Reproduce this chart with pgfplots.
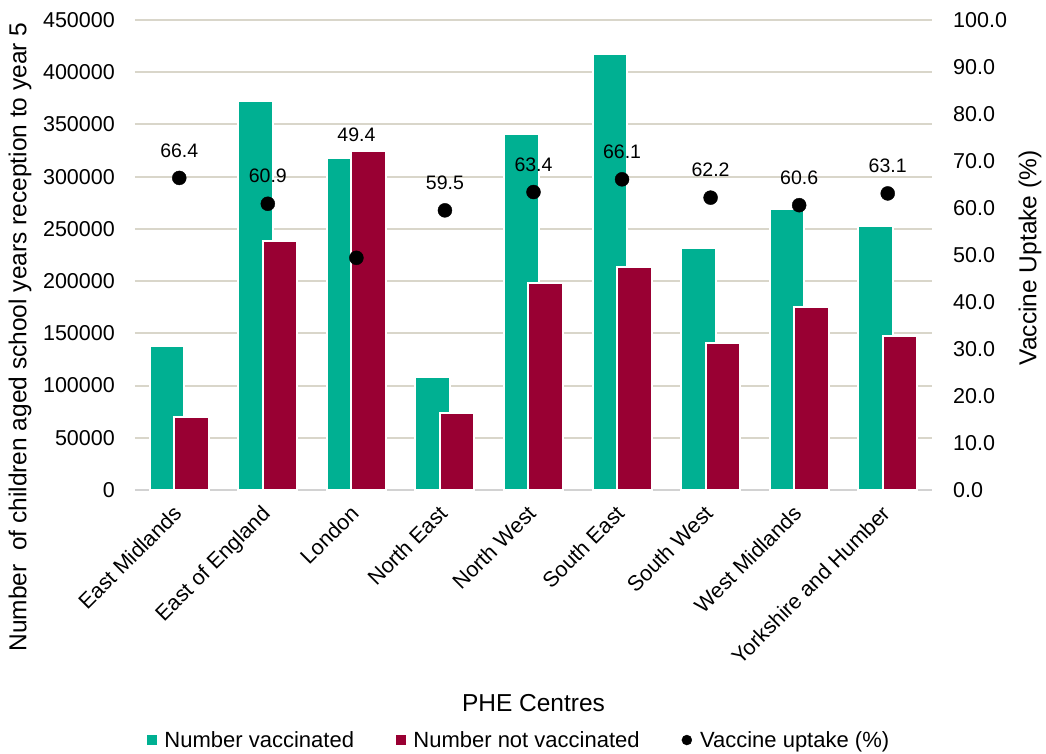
\documentclass[border=0pt]{standalone}
\usepackage{fontspec}
\setmainfont{Liberation Sans}
\usepackage{pgfplots}
\pgfplotsset{compat=1.18}
\definecolor{vgreen}{RGB}{0,176,146}
\definecolor{vred}{RGB}{153,0,51}
\definecolor{gridc}{RGB}{217,214,202}
\definecolor{basec}{RGB}{210,210,210}
\pgfplotstableread{
idx vacc notvacc uptake lshift
0 137900 70000 66.4 20.5
1 372100 238700 60.9 20.5
2 318200 324900 49.4 116
3 108200 73600 59.5 20.5
4 341100 197900 63.4 20.5
5 417700 213500 66.1 20.5
6 231400 140400 62.2 20.5
7 269300 174900 60.6 20.5
8 253100 147400 63.1 20.5
}\datatable
\begin{document}
\begin{tikzpicture}
\useasboundingbox (-135pt,-264pt) rectangle (911pt,490pt);
\pgfplotsset{common/.style={width=797pt, height=470pt, scale only axis,
  xmin=-0.5, xmax=8.5,
  /pgf/number format/assume math mode=true,
  tick style={draw=none}, major tick length=0pt}}
\begin{axis}[common,
  ymin=0, ymax=450000, ytick={0,50000,...,450000},
  scaled y ticks=false,
  yticklabel style={/pgf/number format/fixed, /pgf/number format/1000 sep={},
    font=\fontsize{21.5}{24}\selectfont, anchor=east, inner sep=0pt, xshift=-20pt},
  xtick={0,...,8},
  xticklabels={East Midlands, East of England, London, North East, North West, South East, South West, West Midlands, Yorkshire and Humber},
  xticklabel style={font=\fontsize{21.5}{24}\selectfont, rotate=45, anchor=north east, inner sep=0pt, yshift=-4.5pt, xshift=-15pt},
  axis x line*=bottom, axis y line*=left,
  y axis line style={draw=none},
  x axis line style={-, draw=basec, line width=2pt},
  ymajorgrids, grid style={gridc, line width=2pt},
  ylabel={Number~ of children aged school years reception to year 5},
  ylabel style={at={(axis description cs:-0.1443,0.3255)}, anchor=center, font=\fontsize{24.5}{28}\selectfont},
  xlabel={PHE Centres},
  xlabel style={at={(axis description cs:0.5,-0.453)}, anchor=center, font=\fontsize{24.5}{28}\selectfont},
]
\addplot[ybar, bar width=34.5pt, bar shift=-12.2pt, fill=vgreen, draw=white, line width=2pt] table[x=idx, y=vacc] {\datatable};
\addplot[ybar, bar width=34.5pt, bar shift=12.2pt, fill=vred, draw=white, line width=2pt] table[x=idx, y=notvacc] {\datatable};
\end{axis}
\begin{axis}[common,
  ymin=0, ymax=100, ytick={0,10,...,100},
  yticklabel style={/pgf/number format/fixed, /pgf/number format/fixed zerofill, /pgf/number format/precision=1,
    font=\fontsize{21.5}{24}\selectfont, anchor=west, inner sep=0pt, xshift=21pt},
  axis x line=none, axis y line*=right,
  y axis line style={draw=none},
  xtick=\empty,
  ylabel={Vaccine Uptake (\%)},
  ylabel style={at={(axis description cs:1.123,0.494)}, anchor=center, font=\fontsize{24.5}{28}\selectfont},
  legend columns=3,
  legend style={at={(axis description cs:0.482,-0.532)}, anchor=center, draw=none, fill=none,
    font=\fontsize{22}{24}\selectfont, inner sep=0pt,
    /tikz/every odd column/.append style={column sep=6pt},
    /tikz/every even column/.append style={column sep=40pt}},
]
\addlegendimage{legend image code/.code={\fill[vgreen] (0pt,-4.5pt) rectangle (9pt,4.5pt);}}
\addlegendentry{Number vaccinated}
\addlegendimage{legend image code/.code={\fill[vred] (0pt,-4.5pt) rectangle (9pt,4.5pt);}}
\addlegendentry{Number not vaccinated}
\addlegendimage{legend image code/.code={\fill[black] (5pt,0pt) circle (5pt);}}
\addlegendentry{Vaccine uptake (\%)}
\addplot[only marks, mark=*, mark size=7pt, black, forget plot,
  point meta=y,
  visualization depends on={\thisrow{lshift} \as \lshift},
  nodes near coords={\pgfmathprintnumber[fixed,fixed zerofill,precision=1]{\pgfplotspointmeta}},
  every node near coord/.append style={anchor=south, inner sep=0pt, yshift=\lshift pt, font=\fontsize{19.5}{22}\selectfont, text=black}]
  table[x=idx, y=uptake] {\datatable};
\end{axis}
\end{tikzpicture}
\end{document}
